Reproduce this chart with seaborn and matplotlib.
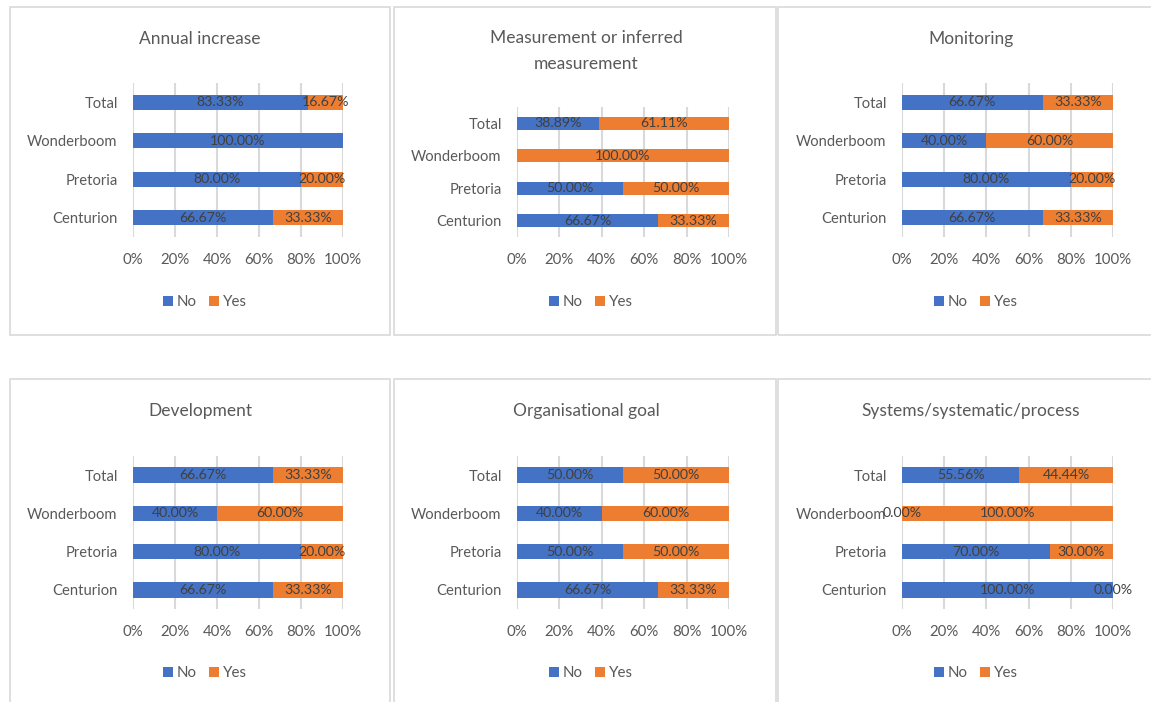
import numpy as np
import pandas as pd
import matplotlib
matplotlib.use("Agg")
import matplotlib.pyplot as plt
import seaborn as sns
from matplotlib.patches import Patch, Rectangle

# ---------------- data ----------------
sites = ["Total", "Wonderboom", "Pretoria", "Centurion"]
titles = ["Annual increase", "Measurement or inferred\nmeasurement", "Monitoring",
          "Development", "Organisational goal", "Systems/systematic/process"]

annual_no = [83.33, 100.00, 80.00, 66.67]
annual_yes = [16.67, np.nan, 20.00, 33.33]
measure_no = [38.89, np.nan, 50.00, 66.67]
measure_yes = [61.11, 100.00, 50.00, 33.33]
monitor_no = [66.67, 40.00, 80.00, 66.67]
monitor_yes = [33.33, 60.00, 20.00, 33.33]
develop_no = [66.67, 40.00, 80.00, 66.67]
develop_yes = [33.33, 60.00, 20.00, 33.33]
goal_no = [50.00, 40.00, 50.00, 66.67]
goal_yes = [50.00, 60.00, 50.00, 33.33]
systems_no = [55.56, 0.00, 70.00, 100.00]
systems_yes = [44.44, 100.00, 30.00, 0.00]

x_ticks = [0, 20, 40, 60, 80, 100]
x_tick_labels = ["0%", "20%", "40%", "60%", "80%", "100%"]
legend_labels = ["No", "Yes"]

series = [(annual_no, annual_yes), (measure_no, measure_yes), (monitor_no, monitor_yes),
          (develop_no, develop_yes), (goal_no, goal_yes), (systems_no, systems_yes)]

# ---------------- style ----------------
BLUE = "#4472C4"
ORANGE = "#ED7D31"
GRID = "#D9D9D9"
TXT = "#595959"
LBL = "#404040"

sns.set_style("white")
plt.rcParams['font.family'] = ['Lato', 'DejaVu Sans']

W, H = 1151, 702
fig = plt.figure(figsize=(W / 100, H / 100), dpi=100)
fig.patch.set_facecolor("white")

# pixel layout
col_border = [(10, 390), (394, 776), (778, 1165)]
col_axes = [(133, 343), (517, 729), (902, 1113)]
col_center = [200, 586, 971]
rows = [
    dict(border=(7, 335), title_y=39, legend_y=302, axes=[(83, 237), (107, 237), (83, 237)]),
    dict(border=(379, 730), title_y=411, legend_y=673, axes=[(456, 609), (456, 609), (456, 609)]),
]


def fx(x):
    return x / W


def fy(y):
    return 1 - y / H


for i, (no_vals, yes_vals) in enumerate(series):
    r, c = divmod(i, 3)
    row = rows[r]
    bx0, bx1 = col_border[c]
    by0, by1 = row["border"]
    fig.patches.append(Rectangle((fx(bx0), fy(by1)), fx(bx1 - bx0), (by1 - by0) / H,
                                 transform=fig.transFigure, fill=False,
                                 edgecolor=GRID, linewidth=1.2, zorder=0))
    l, rr = col_axes[c]
    t, b = row["axes"][c]
    ax = fig.add_axes([fx(l), fy(b), fx(rr - l), (b - t) / H])

    df = pd.DataFrame({"site": sites, "No": no_vals, "Yes": yes_vals})
    no_fill = df["No"].fillna(0)
    yes_fill = df["Yes"].fillna(0)
    sns.barplot(x=no_fill, y=df["site"], order=sites, orient="y", color=BLUE,
                saturation=1, width=0.4, errorbar=None, linewidth=0, ax=ax)
    sns.barplot(x=yes_fill, y=df["site"], order=sites, orient="y", color=ORANGE,
                saturation=1, width=0.4, errorbar=None, linewidth=0, ax=ax,
                left=no_fill.values)

    for cont, vals in zip(ax.containers, [df["No"], df["Yes"]]):
        labs = ["" if pd.isna(v) else f"{v:.2f}%" for v in vals]
        ax.bar_label(cont, labels=labs, label_type="center", color=LBL, fontsize=10.2)

    ax.set_xlim(0, 100)
    ax.set_xticks(x_ticks)
    ax.set_xticklabels(x_tick_labels)
    ax.set_xlabel("")
    ax.set_ylabel("")
    ax.grid(axis="x", color=GRID, linewidth=1.5)
    ax.grid(axis="y", visible=False)
    ax.set_axisbelow(True)
    for s in ax.spines.values():
        s.set_visible(False)
    ax.tick_params(axis="x", length=0, pad=11.5, labelsize=10.8, labelcolor=TXT)
    ax.tick_params(axis="y", length=0, pad=11, labelsize=10.6, labelcolor=TXT)

    title = titles[i]
    if "\n" in title:
        fig.text(fx(col_center[c]), fy(row["title_y"] + 12), title, ha="center", va="center",
                 fontsize=12.5, color=TXT, linespacing=1.72)
    else:
        fig.text(fx(col_center[c]), fy(row["title_y"]), title, ha="center", va="center",
                 fontsize=12.5, color=TXT)

    handles = [Patch(facecolor=BLUE, edgecolor="none"), Patch(facecolor=ORANGE, edgecolor="none")]
    fig.legend(handles, legend_labels, loc="center",
               bbox_to_anchor=(fx(col_center[c] + 5), fy(row["legend_y"])),
               ncol=2, frameon=False, handlelength=0.65, handleheight=0.65,
               handletextpad=0.3, columnspacing=0.8, fontsize=10.8, labelcolor=TXT,
               borderaxespad=0, borderpad=0)

fig.savefig("out.png", dpi=100, facecolor="white")
